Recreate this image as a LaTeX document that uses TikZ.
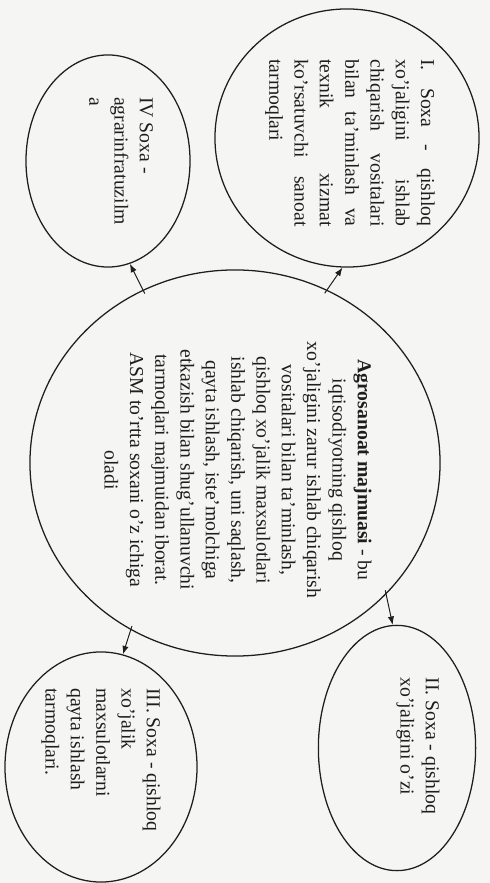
\documentclass[tikz,border=0pt]{standalone}
\usepackage{fontspec}
\setmainfont{Liberation Serif}
\usepackage{tikz}
\usetikzlibrary{shapes.geometric,arrows.meta}
\definecolor{ink}{HTML}{1E1E1E}
\definecolor{paper}{HTML}{F5F5F3}

\begin{document}
\begin{tikzpicture}[x=0.025cm, y=0.025cm,
  soxa/.style={ellipse, draw=ink, line width=0.9pt, inner sep=0pt},
  txt/.style={rotate=-90, text=ink, inner sep=0pt, font=\fontsize{14}{18}\selectfont},
  arr/.style={-{Latex[length=6pt,width=4.5pt]}, draw=ink, line width=0.7pt, shorten <=-3pt}]
  % Page
  \fill[paper] (0,0) rectangle (490,883);
  \useasboundingbox (0,0) rectangle (490,883);

  % Centre: the complex itself
  \node[soxa, minimum width=10.25cm, minimum height=9.65cm] (agro) at (235,420) {};
  \node[txt, align=center] (agrotxt) at ([xshift=0.75mm, yshift=-1.75mm]agro.center) {%
    \textbf{Agrosanoat majmuasi} - bu\\
    iqtisodiyotning qishloq\\
    xo'jaligini zarur ishlab chiqarish\\
    vositalari bilan ta'minlash,\\
    qishloq xo'jalik maxsulotlari\\
    ishlab chiqarish, uni saqlash,\\
    qayta ishlash, iste'molchiga\\
    etkazish bilan shug'ullanuvchi\\
    tarmoqlari majmuidan iborat.\\
    ASM to'rtta soxani o'z ichiga\\
    oladi};

  % Sphere I
  \node[soxa, minimum width=6.6cm, minimum height=6.45cm] (soxaI) at (347,745) {};
  \node[txt, text width=4.18cm, align=left] (txtI) at ([xshift=0.75mm, yshift=-1.25mm]soxaI.center) {%
    I.\hfill Soxa\hfill -\hfill qishloq\\
    xo'jaligini\hfill ishlab\\
    chiqarish\hfill vositalari\\
    bilan\hfill ta'minlash\hfill va\\
    texnik\hfill xizmat\\
    ko'rsatuvchi\hfill sanoat\\
    tarmoqlari};

  % Sphere II
  \node[soxa, minimum width=3.93cm, minimum height=6.13cm] (soxaII) at (397,135) {};
  \node[txt, align=left] (txtII) at ([xshift=5.25mm, yshift=0.5mm]soxaII.center) {%
    II. Soxa - qishloq\\
    xo'jaligini o'zi};

  % Sphere III
  \node[soxa, minimum width=4.8cm, minimum height=5.75cm] (soxaIII) at (101,116) {};
  \node[txt, align=left] (txtIII) at ([yshift=1.75mm]soxaIII.center) {%
    III. Soxa - qishloq\\
    xo'jalik\\
    maxsulotlarni\\
    qayta ishlash\\
    tarmoqlari.};

  % Sphere IV
  \node[soxa, minimum width=4.1cm, minimum height=5.3cm] (soxaIV) at (108,722) {};
  \node[txt, align=left] (txtIV) at ([xshift=3.25mm]soxaIV.center) {%
    IV Soxa -\\
    agrarinfratuzilm\\
    a};

  % Arrows out of the centre
  \draw[arr] (agro.62) -- (soxaI.268);
  \draw[arr] (agro.-41) -- (soxaII.92);
  \draw[arr] (agro.238) -- (soxaIII.79);
  \draw[arr] (agro.118) -- (soxaIV.282);
\end{tikzpicture}
\end{document}
